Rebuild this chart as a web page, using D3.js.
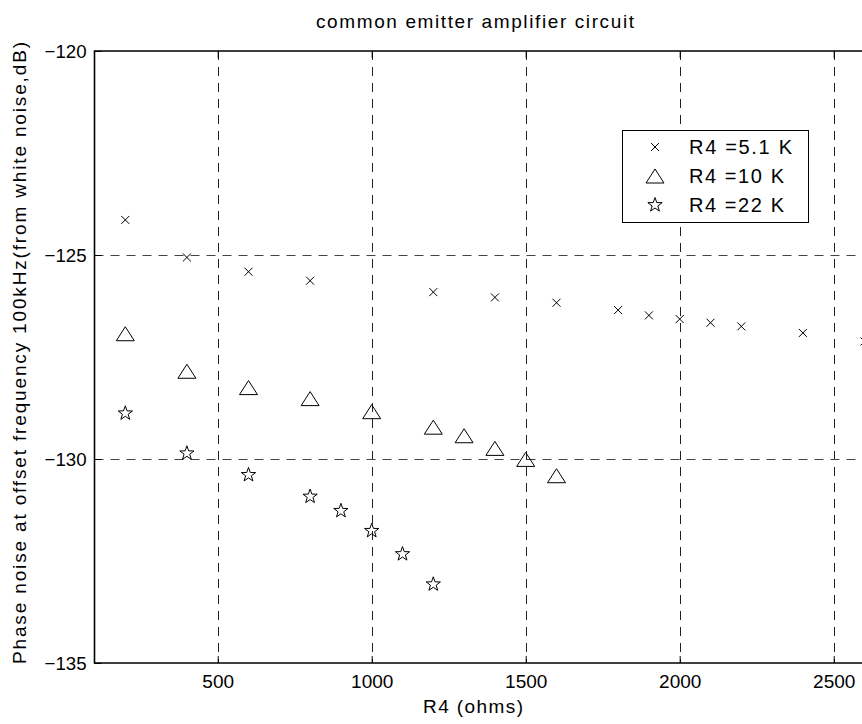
<!DOCTYPE html>
<html><head><meta charset="utf-8">
<script src="https://cdn.jsdelivr.net/npm/d3@7"></script>
<style>body{margin:0;background:#fff;overflow:hidden}</style>
</head><body>
<script>
// ---- data ----
const titleText = "common emitter amplifier circuit";
const xLabel = "R4 (ohms)";
const yLabel = "Phase noise at offset frequency 100kHz(from white noise,dB)";
const xTicks = [500, 1000, 1500, 2000, 2500];
const yTicks = [-120, -125, -130, -135];
const seriesNames = ["R4 =5.1 K", "R4 =10 K", "R4 =22 K"];
const r51X = [200, 400, 600, 800, 1200, 1400, 1600, 1800, 1900, 2000, 2100, 2200, 2400, 2600];
const r51Y = [-124.14, -125.06, -125.41, -125.63, -125.91, -126.04, -126.17, -126.35, -126.48, -126.57, -126.66, -126.75, -126.91, -127.12];
const r10X = [200, 400, 600, 800, 1000, 1200, 1300, 1400, 1500, 1600];
const r10Y = [-126.93, -127.85, -128.25, -128.52, -128.84, -129.22, -129.43, -129.74, -130.01, -130.41];
const r22X = [200, 400, 600, 800, 900, 1000, 1100, 1200];
const r22Y = [-128.88, -129.86, -130.39, -130.92, -131.27, -131.76, -132.33, -133.07];

(function () {
// ---- layout ----
const W = 862, H = 724;
const L = 94.5, T = 51, B = 663, R = 864.5;
const font = "'Liberation Sans', Arial, Helvetica, sans-serif";

const svg = d3.select("body").append("svg").attr("width", W).attr("height", H)
  .style("font-family", font);

const x = d3.scaleLinear().domain([100, 2600]).range([L, R]);
const y = d3.scaleLinear().domain([-135, -120]).range([B, T]);

// grid
const grid = svg.append("g").attr("stroke-width", 1)
  .attr("stroke-dasharray", "9,7").attr("fill", "none");
grid.selectAll("line.v").data(xTicks).join("line").attr("class", "v")
  .attr("stroke", "#222")
  .attr("x1", d => Math.round(x(d)) + 0.5).attr("x2", d => Math.round(x(d)) + 0.5)
  .attr("y1", T).attr("y2", B);
grid.selectAll("line.h").data(yTicks.filter(d => d > -135 && d < -120)).join("line").attr("class", "h")
  .attr("stroke", "#444")
  .attr("x1", L).attr("x2", W + 10)
  .attr("y1", d => Math.round(y(d)) + 0.5).attr("y2", d => Math.round(y(d)) + 0.5);

// axes
const gBottom = svg.append("g").attr("transform", `translate(0,${B})`)
  .call(d3.axisBottom(x).tickValues(xTicks).tickSize(-7).tickPadding(11).tickFormat(d3.format("d")));
const gTop = svg.append("g").attr("transform", `translate(0,${T})`)
  .call(d3.axisTop(x).tickValues(xTicks).tickSize(-7).tickFormat(""));
const gLeft = svg.append("g").attr("transform", `translate(${L},0)`)
  .call(d3.axisLeft(y).tickValues(yTicks).tickSize(-7).tickPadding(8).tickFormat(d3.format("d")));
[gBottom, gTop, gLeft].forEach(g => {
  g.select(".domain").remove();
  g.selectAll(".tick line").attr("stroke", "#000");
  g.selectAll("text").attr("font-size", 19).attr("fill", "#000").attr("font-family", font);
});
gLeft.selectAll("text").attr("dy", "0.33em").attr("textLength", 42).attr("lengthAdjust", "spacingAndGlyphs");
gBottom.selectAll("text").attr("dy", "0.72em");

// frame
svg.append("path").attr("fill", "none").attr("stroke", "#000").attr("stroke-width", 1.6)
  .attr("d", `M${W + 5},${T}H${L}V${B}H${W + 5}`);

// markers
const crossPath = "M-4,-4L4,4M-4,4L4,-4";
const triPath = "M0,-7L9,7L-9,7Z";
function starPath(Ro, Ri) {
  const pts = [];
  for (let i = 0; i < 10; i++) {
    const a = -Math.PI / 2 + i * Math.PI / 5;
    const r = i % 2 === 0 ? Ro : Ri;
    pts.push([r * Math.cos(a), r * Math.sin(a)]);
  }
  return "M" + pts.map(p => p[0].toFixed(2) + "," + p[1].toFixed(2)).join("L") + "Z";
}
const stPath = starPath(7.5, 3);
const shapes = [crossPath, triPath, stPath];

const series = [
  {xs: r51X, ys: r51Y, shape: 0},
  {xs: r10X, ys: r10Y, shape: 1},
  {xs: r22X, ys: r22Y, shape: 2}
];
series.forEach(s => {
  svg.append("g").selectAll("path").data(s.xs.map((v, i) => [v, s.ys[i]])).join("path")
    .attr("d", shapes[s.shape])
    .attr("transform", d => `translate(${x(d[0])},${y(d[1])})`)
    .attr("fill", "none").attr("stroke", "#000").attr("stroke-width", 1);
});

// legend
const lg = svg.append("g");
lg.append("rect").attr("x", 622.5).attr("y", 130.5).attr("width", 186).attr("height", 92)
  .attr("fill", "#fff").attr("stroke", "#000").attr("stroke-width", 1);
const rowsY = [147, 176, 205];
const textLens = [103, 95, 95];
seriesNames.forEach((n, i) => {
  lg.append("path").attr("d", shapes[i]).attr("transform", `translate(655,${rowsY[i]})`)
    .attr("fill", "none").attr("stroke", "#000");
  lg.append("text").attr("x", 689).attr("y", rowsY[i] + 7).attr("font-size", 20)
    .attr("textLength", textLens[i]).attr("lengthAdjust", "spacing").text(n);
});

// titles
svg.append("text").attr("x", 475).attr("y", 28).attr("text-anchor", "middle")
  .attr("font-size", 19).attr("textLength", 318).attr("lengthAdjust", "spacing").text(titleText);
svg.append("text").attr("x", 473).attr("y", 713).attr("text-anchor", "middle")
  .attr("font-size", 19).attr("textLength", 100).attr("lengthAdjust", "spacing").text(xLabel);
svg.append("text").attr("transform", "translate(26,353) rotate(-90)").attr("text-anchor", "middle")
  .attr("font-size", 19).attr("textLength", 622).attr("lengthAdjust", "spacing").text(yLabel);
})();
</script>
</body></html>
